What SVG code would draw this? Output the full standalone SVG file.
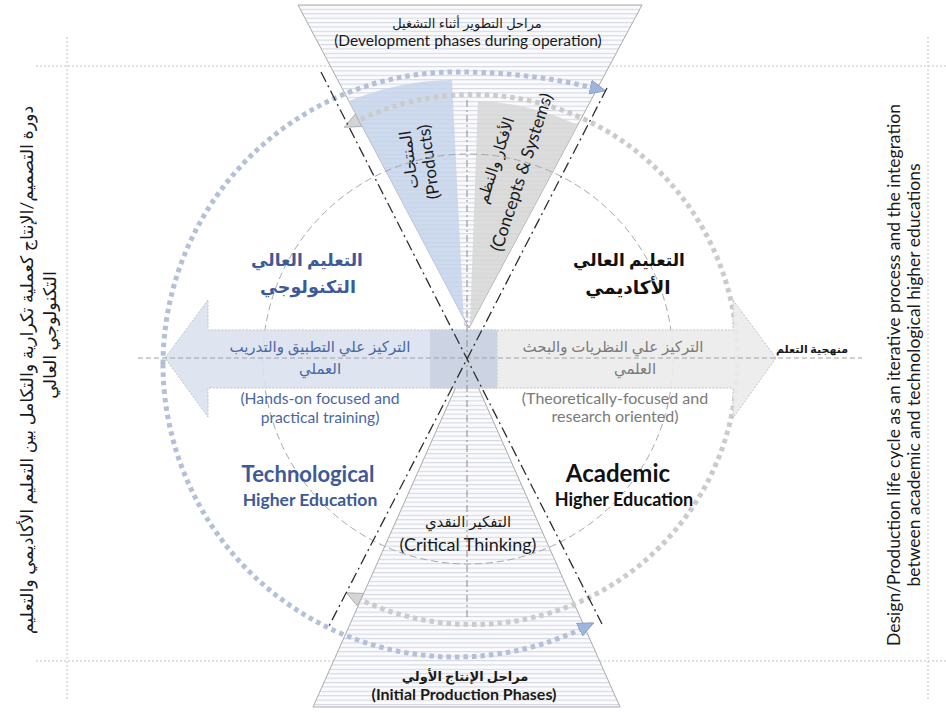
<svg xmlns="http://www.w3.org/2000/svg" width="946" height="713" viewBox="0 0 946 713">
<defs>
<pattern id="stripes" width="6" height="4.4" patternUnits="userSpaceOnUse">
<rect width="6" height="4.4" fill="#fbfbfd"/>
<rect width="6" height="1.1" fill="#d3d8e2"/>
</pattern>
<marker id="mBlue" viewBox="0 0 16 16" refX="4" refY="8" markerWidth="16" markerHeight="16" markerUnits="userSpaceOnUse" orient="auto-start-reverse">
<path d="M0,1 L16,8 L0,15 Z" fill="#9fb5dc" stroke="#7d98c6" stroke-width="0.8"/>
</marker>
<marker id="mGray" viewBox="0 0 16 16" refX="4" refY="8" markerWidth="16" markerHeight="16" markerUnits="userSpaceOnUse" orient="auto-start-reverse">
<path d="M0,1 L16,8 L0,15 Z" fill="#d4d4d4" stroke="#a6a6a6" stroke-width="0.8"/>
</marker>
<style>
text{font-family:Lato,'DejaVu Sans',sans-serif;fill:#1a1a1a}
.frame{fill:none;stroke:#c4c4c4;stroke-width:1;stroke-dasharray:2 2}
.funnel{fill:url(#stripes);stroke:#a9a9a9;stroke-width:1}
.dotB{fill:none;stroke:#b3c0d8;stroke-width:5;stroke-dasharray:4.5 4}
.dotG{fill:none;stroke:#cbcbcb;stroke-width:5;stroke-dasharray:4.5 4}
.dash{fill:none;stroke:#a8a8a8;stroke-width:1;stroke-dasharray:7 4}
.dashdot{fill:none;stroke:#2e2e2e;stroke-width:1.3;stroke-dasharray:11 4 2 4}
.center{fill:none;stroke:#8a8a8a;stroke-width:1;stroke-dasharray:7 3 2 3}
.hline{fill:none;stroke:#a0a0a0;stroke-width:1;stroke-dasharray:5 3}
.arrowL{fill:#dce3ef;stroke:#bdbdbd;stroke-width:1;stroke-dasharray:2 1.5;opacity:0.9}
.arrowR{fill:#ececec;stroke:#bdbdbd;stroke-width:1;stroke-dasharray:2 1.5;opacity:0.9}
.blueT{fill:#3d5a98;font-weight:bold}
.blackT{fill:#111;font-weight:bold}
.blueS{fill:#4a67a2}
.grayS{fill:#7a7a7a}
</style>
</defs>
<rect width="946" height="713" fill="#ffffff"/>

<g id="frame">
<line class="frame" x1="36" y1="66" x2="946" y2="66"/>
<line class="frame" x1="36" y1="661" x2="946" y2="661"/>
<line class="frame" x1="67" y1="37" x2="67" y2="700"/>
<line class="frame" x1="928" y1="37" x2="928" y2="700"/>
</g>

<g id="top-funnel">
<path class="funnel" d="M298,5 L642,5 L469,328 Z"/>
<path d="M467,326 L349,101 A284,284 0 0 1 452,80 L464,326 Z" fill="#c6d3ea" opacity="0.85"/>
<path d="M470,326 L478,101 A258,258 0 0 1 577.5,125 Z" fill="#d6d6d6" opacity="0.85"/>
<text x="467" y="28" font-size="13" text-anchor="middle">مراحل التطوير أثناء التشغيل</text>
<text x="468" y="46" font-size="15.5" text-anchor="middle">(Development phases during operation)</text>
<text transform="translate(408,160) rotate(-98)" font-size="16" text-anchor="middle" dominant-baseline="central">المنتجات</text>
<text transform="translate(428,162) rotate(-98)" font-size="17" text-anchor="middle" dominant-baseline="central">(Products)</text>
<text transform="translate(495,160) rotate(-72)" font-size="15.5" text-anchor="middle" dominant-baseline="central">الأفكار والنظم</text>
<text transform="translate(521,172) rotate(-72)" font-size="17.5" text-anchor="middle" dominant-baseline="central">(Concepts &amp; Systems)</text>
</g>

<g id="bottom-funnel">
<path class="funnel" d="M467,362 L620,707 L313,707 Z"/>
<text x="468" y="527" font-size="15" text-anchor="middle">التفكير النقدي</text>
<text x="468" y="551" font-size="18" text-anchor="middle">(Critical Thinking)</text>
<text x="465" y="681" font-size="13" text-anchor="middle" font-weight="bold">مراحل الإنتاج الأولي</text>
<text x="464" y="700" font-size="16" text-anchor="middle" font-weight="bold">(Initial Production Phases)</text>
</g>

<g id="connectors">
<circle class="dash" cx="468" cy="359" r="205"/>
<path class="dotB" d="M163,364 A293,293 0 0 1 456,72 A420,300 0 0 1 594,88" marker-end="url(#mBlue)"/>
<path class="dotB" d="M163,364 A293,293 0 0 0 583,628" marker-end="url(#mBlue)"/>
<path class="dotG" d="M357,598 A265,265 0 1 0 355,122" marker-start="url(#mGray)" marker-end="url(#mGray)"/>
</g>

<g id="right-arrow">
<path class="arrowR" d="M776,358 L733,300 L733,330 L430,330 L430,388 L733,388 L733,418 Z"/>
</g>
<g id="left-arrow">
<path class="arrowL" d="M165,358 L208,300 L208,330 L497,330 L497,388 L208,388 L208,417 Z"/>
<rect x="430" y="330" width="67" height="58" fill="#cad2e1" opacity="0.9"/>
</g>

<g id="axes">
<line class="hline" x1="138" y1="358" x2="862" y2="358"/>
<line class="center" x1="467" y1="100" x2="467" y2="620"/>
<line class="dashdot" x1="321" y1="72" x2="602" y2="624"/>
<line class="dashdot" x1="607" y1="88" x2="329" y2="626"/>
</g>

<g id="technological">
<text x="307" y="266" font-size="17" class="blueT" text-anchor="middle">التعليم العالي</text>
<text x="308" y="293" font-size="17.5" class="blueT" text-anchor="middle">التكنولوجي</text>
<text x="308" y="482" font-size="22" class="blueT" text-anchor="middle">Technological</text>
<text x="310" y="506" font-size="17.5" class="blueT" text-anchor="middle">Higher Education</text>
</g>

<g id="academic">
<text x="629" y="266" font-size="17" class="blackT" text-anchor="middle">التعليم العالي</text>
<text x="628" y="294" font-size="18.5" class="blackT" text-anchor="middle">الأكاديمي</text>
<text x="618" y="482" font-size="24" class="blackT" text-anchor="middle">Academic</text>
<text x="624" y="506" font-size="18" class="blackT" text-anchor="middle">Higher Education</text>
</g>

<g id="left-arrow-text">
<text x="320" y="352" font-size="15" class="blueS" text-anchor="middle">التركيز علي التطبيق والتدريب</text>
<text x="320" y="374" font-size="15" class="blueS" text-anchor="middle">العملي</text>
<text x="320" y="404" font-size="15.7" class="blueS" text-anchor="middle">(Hands-on focused and</text>
<text x="320" y="423" font-size="15.7" class="blueS" text-anchor="middle">practical training)</text>
</g>

<g id="right-arrow-text">
<text x="613" y="352" font-size="15" class="grayS" text-anchor="middle">التركيز علي النظريات والبحث</text>
<text x="635" y="374" font-size="15" class="grayS" text-anchor="middle">العلمي</text>
<text x="615" y="404" font-size="16" class="grayS" text-anchor="middle">(Theoretically-focused and</text>
<text x="615" y="422" font-size="16" class="grayS" text-anchor="middle">research oriented)</text>
</g>

<g id="methodology">
<text x="848" y="353" font-size="11" font-weight="bold" text-anchor="end">منهجية التعلم</text>
</g>

<g id="left-caption">
<text transform="translate(0,370) rotate(-90)" font-size="17.5" text-anchor="middle"><tspan x="0" y="33">دورة التصميم/الإنتاج كعملية تكرارية والتكامل بين التعليم الأكاديمي والتعليم</tspan><tspan x="35" y="56">التكنولوجي العالي</tspan></text>
</g>

<g id="right-caption">
<text transform="translate(0,375) rotate(-90)" font-size="17.5" text-anchor="middle"><tspan x="0" y="900">Design/Production life cycle as an iterative process and the integration</tspan><tspan x="0" y="920">between academic and technological higher educations</tspan></text>
</g>
</svg>
